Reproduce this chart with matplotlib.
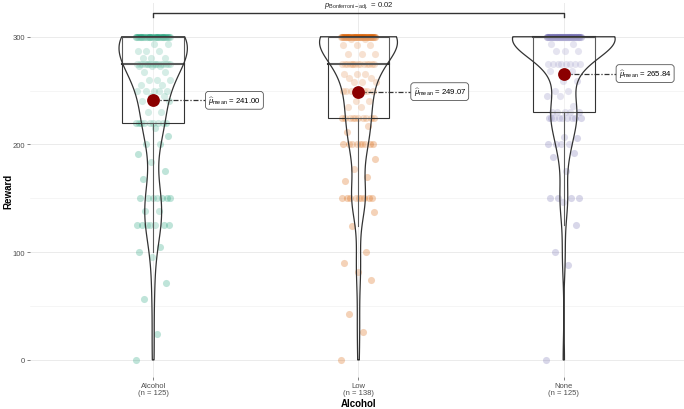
"""Reward by alcohol level: ggstatsplot-style box + violin + jitter chart."""

import numpy as np
import matplotlib

matplotlib.use("Agg")
import matplotlib.pyplot as plt
from matplotlib.patches import Polygon, Rectangle

plt.rcParams["font.family"] = ["Liberation Sans", "DejaVu Sans"]
plt.rcParams["mathtext.fontset"] = "custom"
plt.rcParams["mathtext.rm"] = "Liberation Sans"
plt.rcParams["mathtext.it"] = "Liberation Sans:italic"
plt.rcParams["mathtext.bf"] = "Liberation Sans:bold"

# ---- data (reward values and how often each one occurs) ----
groups = ["Alcohol", "Low", "None"]
colors = ["#1B9E77", "#D95F02", "#7570B3"]

alcohol_values = [0, 24, 57, 71, 96, 100, 105, 125, 138, 150, 168, 175, 184, 191,
                  200, 208, 215, 220, 230, 240, 245, 250, 255, 260, 267, 273,
                  275, 280, 287, 293, 300]
alcohol_counts = [1, 1, 1, 1, 1, 1, 1, 7, 2, 7, 1, 1, 1, 1,
                  2, 1, 1, 9, 2, 3, 2, 5, 2, 3, 2, 3,
                  16, 3, 3, 2, 39]

low_values = [0, 26, 43, 74, 82, 90, 100, 124, 137, 150, 166, 170, 177, 187,
              200, 212, 217, 225, 235, 240, 250, 258, 262, 265, 275, 284, 292,
              298, 300]
low_counts = [1, 1, 1, 1, 1, 1, 1, 1, 1, 9, 1, 1, 1, 1,
              9, 1, 1, 10, 2, 2, 7, 3, 2, 3, 14, 3, 3,
              2, 54]

none_values = [0, 88, 100, 125, 147, 150, 175, 188, 192, 200, 206, 207, 225,
               230, 236, 245, 250, 259, 268, 275, 287, 293, 300]
none_counts = [1, 1, 1, 1, 1, 4, 1, 1, 1, 4, 1, 1, 9,
               5, 1, 2, 2, 2, 2, 8, 3, 2, 71]

p_label = r"$p_{\mathrm{Bonferroni-adj.}}$ = 0.02"

samples = [
    np.repeat(alcohol_values, alcohol_counts).astype(float),
    np.repeat(low_values, low_counts).astype(float),
    np.repeat(none_values, none_counts).astype(float),
]


def bw_nrd0(x):
    sd = np.std(x, ddof=1)
    q1, q3 = np.percentile(x, [25, 75])
    lo = min(sd, (q3 - q1) / 1.34)
    return 0.9 * lo * len(x) ** -0.2


def kde(x, grid):
    h = bw_nrd0(x)
    z = (grid[:, None] - x[None, :]) / h
    return np.exp(-0.5 * z ** 2).sum(axis=1) / (len(x) * h * np.sqrt(2 * np.pi))


fig = plt.figure(figsize=(6.84, 4.10), dpi=100)
ax = fig.add_axes([30 / 684, 32 / 410, 657 / 684, 374.5 / 410])

# violin densities, scaled by the largest density over all groups (scale="area")
dens = []
for x in samples:
    yy = np.linspace(x.min(), x.max(), 512)
    dens.append((yy, kde(x, yy)))
dmax = max(d.max() for _, d in dens)

for i, (x, color) in enumerate(zip(samples, colors)):
    c = i + 1
    # jittered points (deterministic golden-ratio offsets)
    k = np.arange(len(x))
    offs = (((k * 0.6180339887) % 1.0) - 0.5) * 0.17
    ax.scatter(c + offs, x, s=26, color=color, alpha=0.28, linewidths=0, zorder=2)

    # boxplot
    q1, med, q3 = np.percentile(x, [25, 50, 75])
    iqr = q3 - q1
    lo_w = x[x >= q1 - 1.5 * iqr].min()
    hi_w = x[x <= q3 + 1.5 * iqr].max()
    ax.add_patch(Rectangle((c - 0.15, q1), 0.3, q3 - q1, facecolor=(1, 1, 1, 0.2),
                           edgecolor="#333333", linewidth=0.8, zorder=3))
    ax.plot([c - 0.15, c + 0.15], [med, med], color="#333333", lw=1.5, zorder=3)
    ax.plot([c, c], [lo_w, q1], color="#333333", lw=0.8, zorder=3)
    ax.plot([c, c], [q3, hi_w], color="#333333", lw=0.8, zorder=3)

    # violin
    yy, d = dens[i]
    half = 0.25 * d / dmax
    verts = np.concatenate([np.column_stack([c - half, yy]),
                            np.column_stack([c + half, yy])[::-1]])
    ax.add_patch(Polygon(verts, closed=True, facecolor=(1, 1, 1, 0.2),
                         edgecolor="#333333", linewidth=0.9, zorder=4))

    # mean point + label
    m = x.mean()
    ax.plot([c, c + 0.26], [m, m], color="#333333", lw=0.9,
            linestyle=(0, (4, 1.5, 1, 1.5)), zorder=5)
    ax.scatter([c], [m], s=85, color="darkred", zorder=6, linewidths=0)
    ax.text(c + 0.268, m, r"$\widehat{\mu}_{\mathrm{mean}}$" + f" = {m:.2f}",
            ha="left", va="center", fontsize=5.6, color="black", zorder=7,
            bbox=dict(boxstyle="round,pad=0.35,rounding_size=0.4", fc="white",
                      ec="#555555", lw=0.6))

# pairwise comparison bracket
ax.plot([1, 1, 3, 3], [318, 322, 322, 318], color="#333333", lw=1.0, zorder=5)
ax.text(2, 330, p_label, ha="center", va="center", fontsize=5.6, color="#222222")

ax.set_xlim(0.4, 3.6)
ax.set_ylim(-15.8, 331.8)
ax.set_xticks([1, 2, 3])
ax.set_xticklabels([f"{g}\n(n = {len(x)})" for g, x in zip(groups, samples)],
                   fontsize=5.5, color="#4D4D4D", linespacing=1.0)
ax.set_yticks([0, 100, 200, 300])
ax.set_yticks([50, 150, 250], minor=True)
ax.tick_params(axis="both", which="major", length=2.2, width=0.5,
               color="#4D4D4D", labelsize=5.5, labelcolor="#4D4D4D", pad=1.5)
ax.tick_params(axis="y", which="minor", length=0)
ax.grid(True, which="major", color="#EBEBEB", lw=0.7, zorder=0)
ax.grid(True, which="minor", axis="y", color="#F2F2F2", lw=0.5, zorder=0)
ax.set_axisbelow(True)
for s in ax.spines.values():
    s.set_visible(False)
ax.set_xlabel("Alcohol", fontsize=7, fontweight="bold", labelpad=1)
fig.text(8 / 684, 1 - 191 / 410, "Reward", rotation=90, ha="center", va="center",
         fontsize=7, fontweight="bold")

fig.savefig("out.png", dpi=100)
